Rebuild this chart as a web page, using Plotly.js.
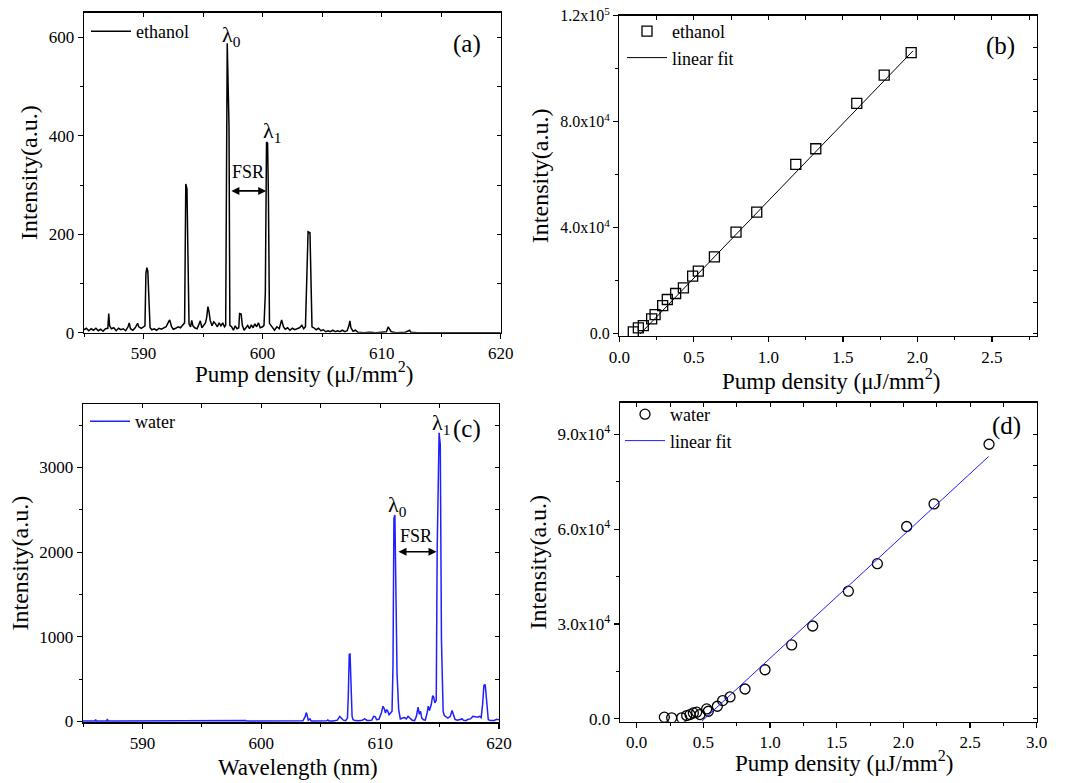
<!DOCTYPE html>
<html>
<head>
<meta charset="utf-8">
<script src="https://cdn.plot.ly/plotly-3.0.1.min.js"></script>
<style>html,body{margin:0;padding:0;background:#fff;} #chart{width:1069px;height:783px;}</style>
</head>
<body>
<div id="chart"></div>
<script>
// ---------- DATA ----------
// (a) ethanol emission spectrum
const ethWavelength = [585.0,585.2,585.4,585.6,585.8,586.0,586.2,586.4,586.6,586.8,587.0,587.08,587.15,587.3,587.5,587.7,587.9,588.1,588.3,588.5,588.7,588.8,588.9,589.1,589.3,589.5,589.6,589.8,590.0,590.12,590.2,590.28,590.36,590.45,590.55,590.7,590.9,591.1,591.3,591.5,591.7,591.9,592.1,592.2,592.35,592.5,592.7,592.9,593.1,593.3,593.45,593.55,593.65,593.72,593.82,593.95,594.05,594.15,594.3,594.5,594.65,594.77,594.9,595.05,595.2,595.3,595.41,595.5,595.6,595.75,595.9,596.05,596.2,596.35,596.5,596.65,596.8,596.9,596.95,597.03,597.18,597.25,597.4,597.55,597.7,597.85,598.0,598.07,598.2,598.3,598.45,598.6,598.75,598.9,599.05,599.2,599.35,599.5,599.65,599.8,600.0,600.12,600.23,600.33,600.42,600.49,600.58,600.7,600.85,601.0,601.2,601.4,601.6,601.75,601.9,602.1,602.3,602.5,602.7,602.9,603.1,603.3,603.45,603.6,603.74,603.82,603.98,604.05,604.15,604.3,604.5,604.7,604.9,605.1,605.3,605.5,605.7,605.9,606.1,606.3,606.5,606.7,606.9,607.1,607.25,607.33,607.42,607.6,607.8,608.0,608.5,609.0,609.5,610.0,610.4,610.55,610.65,610.8,611.2,612.0,612.35,612.45,613.0,620.0];
const ethIntensity = [6,9,4,8,5,9,4,7,3,8,9,39,14,8,10,4,9,6,8,4,12,20,8,5,10,19,12,9,12,14,120,132,125,52,10,6,8,5,9,7,10,12,22,26,12,7,9,12,10,15,20,302,292,176,18,12,25,14,10,8,16,24,10,16,20,30,53,43,25,14,22,18,12,20,14,20,12,15,404,588,418,15,12,5,14,8,10,39,38,15,5,9,15,8,16,10,18,12,20,10,12,15,80,387,385,276,19,15,9,5,12,8,26,12,7,10,5,9,6,8,10,15,8,12,147,205,203,135,12,10,6,9,4,6,2,4,2,5,2,4,2,5,2,4,14,24,10,3,5,1,0,1,0,1,2,12,8,2,0,1,5,1,0,0];

// (b) ethanol output vs pump density
const ethPump = [0.094,0.128,0.161,0.217,0.24,0.291,0.322,0.378,0.43,0.492,0.53,0.638,0.783,0.922,1.184,1.318,1.593,1.777,1.958];
const ethOutput = [755,2264,3145,5661,7296,10693,12957,15222,17360,21763,23650,29060,38369,45917,63906,69819,86928,97620,106050];
const ethFitPump = [0.14,1.97];
const ethFitOutput = [0,106750];

// (c) water emission spectrum
const watWavelength = [585.0,585.5,586.0,586.06,586.12,586.5,587.0,587.05,587.1,588.0,589.0,590.0,591.0,592.0,593.0,594.0,595.0,596.0,596.7,596.8,597.0,598.0,598.7,598.8,599.0,600.0,601.0,602.0,603.0,603.5,603.7,603.78,603.85,603.95,604.1,604.2,604.5,605.0,605.5,605.6,605.7,606.0,606.4,606.6,606.75,606.9,607.1,607.25,607.32,607.4,607.47,607.56,607.64,607.72,607.9,608.2,608.5,608.7,608.9,609.1,609.3,609.45,609.6,609.7,609.9,610.1,610.24,610.35,610.45,610.55,610.65,610.75,610.9,611.0,611.08,611.16,611.24,611.31,611.42,611.56,611.7,611.9,612.05,612.2,612.35,612.5,612.7,612.9,613.05,613.19,613.3,613.4,613.5,613.65,613.8,613.95,614.05,614.15,614.3,614.42,614.5,614.6,614.72,614.8,614.96,615.06,615.16,615.3,615.4,615.7,615.9,616.05,616.15,616.3,616.5,616.7,616.9,617.0,617.2,617.4,617.6,617.8,618.0,618.2,618.35,618.5,618.62,618.73,618.84,618.96,619.1,619.3,619.6,619.8,620.0];
const watIntensity = [5,4,5,22,5,4,6,30,5,4,5,4,5,4,4,5,4,5,12,4,4,5,10,4,4,5,4,5,4,8,60,105,80,15,30,5,4,5,8,18,5,6,15,60,35,15,10,40,300,790,795,400,60,20,10,8,15,30,12,10,15,60,55,20,25,100,180,150,100,140,120,80,100,120,655,2400,2440,1590,575,140,30,40,45,30,60,40,15,10,60,170,85,120,40,20,15,100,180,130,200,305,290,220,250,2040,3410,3270,950,120,70,40,60,130,80,25,15,20,30,15,10,25,30,60,55,50,60,45,200,425,436,220,20,10,12,25,20];

// (d) water output vs pump density
const watPump = [0.2075,0.2625,0.3375,0.375,0.40,0.425,0.45,0.475,0.525,0.5375,0.605,0.645,0.70,0.8125,0.9625,1.1625,1.32,1.5875,1.805,2.025,2.23,2.6425];
const watOutput = [525,315,315,1050,1364,1888,2098,1364,3147,2413,3986,5770,6923,9441,15525,23393,29372,40387,49093,60842,67975,86857];
const watFitPump = [0.49,2.64];
const watFitOutput = [-700,83000];

// tick labels
const bTickVals = [0,40000,80000,120000];
const bTickText = ['0.0','4.0x10<sup>4</sup>','8.0x10<sup>4</sup>','1.2x10<sup>5</sup>'];
const dTickVals = [0,30000,60000,90000];
const dTickText = ['0.0','3.0x10<sup>4</sup>','6.0x10<sup>4</sup>','9.0x10<sup>4</sup>'];

// ---------- STYLE ----------
const FONT = 'Liberation Serif';
const BLUE = '#1f1fff';
const W = 1069, H = 783;
const px = v => v / W;
const py = v => 1 - v / H;

function mainX(dom, range, dtick, tick0, minorDtick, anchor, extra) {
  return Object.assign({
    domain: dom, range: range, anchor: anchor,
    showline: true, linecolor: '#000', linewidth: 1.3, mirror: false,
    showgrid: false, zeroline: false,
    ticks: 'outside', ticklen: 5, tickwidth: 1.2, tickcolor: '#000',
    tickmode: 'linear', dtick: dtick, tick0: tick0,
    minor: {tickmode: 'linear', dtick: minorDtick, tick0: tick0, ticks: 'outside', ticklen: 3, tickwidth: 1, tickcolor: '#000', showgrid: false},
    tickfont: {family: FONT, size: 17, color: '#000'},
    automargin: false
  }, extra || {});
}
function mainY(dom, range, anchor, title, extra) {
  return Object.assign({
    domain: dom, range: range, anchor: anchor,
    showline: true, linecolor: '#000', linewidth: 1.3, mirror: false,
    showgrid: false, zeroline: false,
    ticks: 'outside', ticklen: 5, tickwidth: 1.2, tickcolor: '#000',
    tickfont: {family: FONT, size: 17, color: '#000'},
    title: {text: title, font: {family: FONT, size: 24, color: '#000'}, standoff: 4},
    automargin: false
  }, extra || {});
}
function topX(over, anchor, range, dtick, tick0) {
  return {overlaying: over, anchor: anchor, side: 'top', range: range,
    showline: true, linecolor: '#000', linewidth: 1.3, showgrid: false, zeroline: false,
    ticks: 'inside', ticklen: 4, tickwidth: 1, tickcolor: '#000',
    tickmode: 'linear', dtick: dtick, tick0: tick0, showticklabels: false, automargin: false};
}
function rightY(over, anchor, range, dtick, tick0) {
  return {overlaying: over, anchor: anchor, side: 'right', range: range,
    showline: true, linecolor: '#000', linewidth: 1.3, showgrid: false, zeroline: false,
    ticks: 'inside', ticklen: 4, tickwidth: 1, tickcolor: '#000',
    tickmode: 'linear', dtick: dtick, tick0: tick0, showticklabels: false, automargin: false};
}

const domA = {x: [px(84), px(500.7)], y: [py(332.7), py(12.7)]};
const domB = {x: [px(619.3), px(1036.7)], y: [py(336), py(15.7)]};
const domC = {x: [px(83), px(499)], y: [py(722.3), py(404)]};
const domD = {x: [px(620), px(1036.7)], y: [py(721.7), py(402.7)]};

const rA = {x: [585, 620], y: [0, 650]};
const rB = {x: [0, 2.8], y: [-800, 120000]};
const rC = {x: [585, 620], y: [-10, 3750]};
const rD = {x: [-0.125, 3.0], y: [-900, 100000]};

const traces = [
  {x: ethWavelength, y: ethIntensity, type: 'scatter', mode: 'lines', name: 'ethanol',
   line: {color: '#000', width: 1.5}, xaxis: 'x', yaxis: 'y', legend: 'legend'},
  {x: ethPump, y: ethOutput, type: 'scatter', mode: 'markers', name: 'ethanol',
   marker: {symbol: 'square-open', size: 10, color: '#000', line: {width: 1.3, color: '#000'}}, xaxis: 'x2', yaxis: 'y2', legend: 'legend2'},
  {x: ethFitPump, y: ethFitOutput, type: 'scatter', mode: 'lines', name: 'linear fit',
   line: {color: '#000', width: 1}, xaxis: 'x2', yaxis: 'y2', legend: 'legend2'},
  {x: watWavelength, y: watIntensity, type: 'scatter', mode: 'lines', name: 'water',
   line: {color: BLUE, width: 1.5}, xaxis: 'x3', yaxis: 'y3', legend: 'legend3'},
  {x: watPump, y: watOutput, type: 'scatter', mode: 'markers', name: 'water',
   marker: {symbol: 'circle-open', size: 10, color: '#000', line: {width: 1.3, color: '#000'}}, xaxis: 'x4', yaxis: 'y4', legend: 'legend4'},
  {x: watFitPump, y: watFitOutput, type: 'scatter', mode: 'lines', name: 'linear fit',
   line: {color: BLUE, width: 1}, xaxis: 'x4', yaxis: 'y4', legend: 'legend4'},
  // empty traces to activate mirror (top/right) axes
  {x: [], y: [], type: 'scatter', mode: 'lines', xaxis: 'x5', yaxis: 'y5', showlegend: false, hoverinfo: 'skip'},
  {x: [], y: [], type: 'scatter', mode: 'lines', xaxis: 'x6', yaxis: 'y6', showlegend: false, hoverinfo: 'skip'},
  {x: [], y: [], type: 'scatter', mode: 'lines', xaxis: 'x7', yaxis: 'y7', showlegend: false, hoverinfo: 'skip'},
  {x: [], y: [], type: 'scatter', mode: 'lines', xaxis: 'x8', yaxis: 'y8', showlegend: false, hoverinfo: 'skip'}
];

const pumpTitle = 'Pump density (\u03bcJ/mm<sup>2</sup>)';
const waveTitle = 'Wavelength (nm)';
const yTitle = 'Intensity(a.u.)';

function legendAt(x, y) {
  return {x: px(x), y: py(y), xanchor: 'left', yanchor: 'top', bgcolor: 'rgba(0,0,0,0)',
    borderwidth: 0, font: {family: FONT, size: 18, color: '#000'}, itemwidth: 40, tracegroupgap: 0};
}

const ann = [];
function label(text, x, y, xref, yref, size) {
  ann.push({text: text, x: x, y: y, xref: xref, yref: yref, showarrow: false,
    font: {family: FONT, size: size, color: '#000'}, xanchor: 'center', yanchor: 'middle'});
}
function dblArrow(x0, x1, y, xref, yref) {
  ann.push({x: x1, y: y, ax: x0, ay: y, xref: xref, yref: yref, axref: xref, ayref: yref,
    text: '', showarrow: true, arrowhead: 2, arrowsize: 1, arrowwidth: 1.6, arrowcolor: '#000',
    arrowside: 'end+start', standoff: 0, startstandoff: 0});
}
// x-axis titles (placed below each panel)
label(pumpTitle, px(304), py(372), 'paper', 'paper', 23);
label(pumpTitle, px(831), py(379), 'paper', 'paper', 23);
label(waveTitle, px(298), py(767), 'paper', 'paper', 23);
label(pumpTitle, px(844), py(761), 'paper', 'paper', 23);
// panel (a)
label('\u03bb<sub>0</sub>', 597.4, 603, 'x', 'y', 22);
label('\u03bb<sub>1</sub>', 600.8, 407, 'x', 'y', 22);
label('FSR', 598.75, 327, 'x', 'y', 18);
dblArrow(597.25, 600.3, 288, 'x', 'y');
label('(a)', 617.2, 586, 'x', 'y', 25);
// panel (b)
label('(b)', 2.555, 108500, 'x2', 'y2', 25);
// panel (c)
label('\u03bb<sub>0</sub>', 611.5, 2540, 'x3', 'y3', 22);
label('\u03bb<sub>1</sub>', 615.15, 3510, 'x3', 'y3', 22);
label('(c)', 617.3, 3450, 'x3', 'y3', 25);
label('FSR', 613.0, 2185, 'x3', 'y3', 18);
dblArrow(611.42, 614.74, 2004, 'x3', 'y3');
// panel (d)
label('(d)', 2.775, 92600, 'x4', 'y4', 25);

const layout = {
  width: W, height: H,
  margin: {l: 0, r: 0, t: 0, b: 0},
  paper_bgcolor: '#fff', plot_bgcolor: 'rgba(0,0,0,0)',
  font: {family: FONT, color: '#000'},
  xaxis: mainX(domA.x, rA.x, 10, 590, 5, 'y'),
  yaxis: mainY(domA.y, rA.y, 'x', yTitle, {tickmode: 'linear', dtick: 200, tick0: 0,
    minor: {tickmode: 'linear', dtick: 100, tick0: 0, ticks: 'outside', ticklen: 3, tickwidth: 1, tickcolor: '#000', showgrid: false}}),
  xaxis2: mainX(domB.x, rB.x, 0.5, 0, 0.25, 'y2', {tickformat: '.1f'}),
  yaxis2: mainY(domB.y, rB.y, 'x2', yTitle, {tickmode: 'array', tickvals: bTickVals, ticktext: bTickText, tickfont: {family: FONT, size: 16, color: '#000'},
    minor: {tickmode: 'linear', dtick: 20000, tick0: 0, ticks: 'outside', ticklen: 3, tickwidth: 1, tickcolor: '#000', showgrid: false}}),
  xaxis3: mainX(domC.x, rC.x, 10, 590, 5, 'y3'),
  yaxis3: mainY(domC.y, rC.y, 'x3', yTitle, {tickmode: 'linear', dtick: 1000, tick0: 0,
    minor: {tickmode: 'linear', dtick: 500, tick0: 0, ticks: 'outside', ticklen: 3, tickwidth: 1, tickcolor: '#000', showgrid: false}}),
  xaxis4: mainX(domD.x, rD.x, 0.5, 0, 0.25, 'y4', {tickformat: '.1f'}),
  yaxis4: mainY(domD.y, rD.y, 'x4', yTitle, {tickmode: 'array', tickvals: dTickVals, ticktext: dTickText,
    minor: {tickmode: 'linear', dtick: 15000, tick0: 0, ticks: 'outside', ticklen: 3, tickwidth: 1, tickcolor: '#000', showgrid: false}}),
  xaxis5: topX('x', 'y', rA.x, 5, 590),
  yaxis5: rightY('y', 'x', rA.y, 100, 0),
  xaxis6: topX('x2', 'y2', rB.x, 0.25, 0),
  yaxis6: rightY('y2', 'x2', rB.y, 12000, 0),
  xaxis7: topX('x3', 'y3', rC.x, 5, 590),
  yaxis7: rightY('y3', 'x3', rC.y, 500, 0),
  xaxis8: topX('x4', 'y4', rD.x, 0.25, 0),
  yaxis8: rightY('y4', 'x4', rD.y, 10000, 0),
  legend: legendAt(86, 13),
  legend2: legendAt(622, 13),
  legend3: legendAt(85, 403),
  legend4: legendAt(620, 396),
  annotations: ann,
  showlegend: true
};

Plotly.newPlot('chart', traces, layout, {staticPlot: true, displayModeBar: false});
</script>
</body>
</html>
